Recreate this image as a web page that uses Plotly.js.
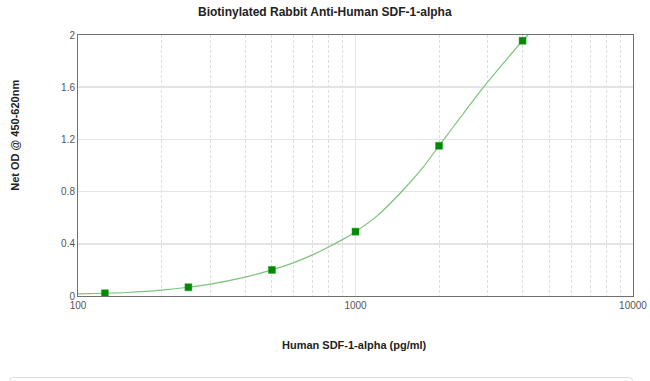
<!DOCTYPE html>
<html>
<head>
<meta charset="utf-8">
<script src="https://cdn.plot.ly/plotly-3.0.1.min.js"></script>
<style>
  html, body { margin: 0; padding: 0; background: #fff; }
  #wrap { position: relative; width: 650px; height: 381px; overflow: hidden; }
  #chart { position: absolute; left: 0; top: 0; width: 650px; height: 381px; }
  #box { position: absolute; left: 9px; top: 377px; width: 622px; height: 30px;
         border: 1px solid #dedede; border-radius: 4px; }
</style>
</head>
<body>
<div id="wrap">
  <div id="chart"></div>
  <div id="box"></div>
</div>
<script>
// Measured standards
const concentration = [125, 250, 500, 1000, 2000, 4000];
const netOD = [0.021, 0.067, 0.200, 0.493, 1.151, 1.956];

// Fitted curve
const curveX = [100, 125, 150, 200, 250, 300, 400, 500, 600, 700, 800, 900, 1000, 1200, 1500, 1750, 2000, 2500, 3000, 3500, 4000, 4200];
const curveY = [0.017, 0.021, 0.027, 0.045, 0.067, 0.091, 0.145, 0.200, 0.256, 0.315, 0.375, 0.434, 0.493, 0.616, 0.822, 0.985, 1.151, 1.425, 1.642, 1.812, 1.956, 2.004];

const titleText = 'Biotinylated Rabbit Anti-Human SDF-1-alpha';
const xTitle = 'Human SDF-1-alpha (pg/ml)';
const yTitle = 'Net OD @ 450-620nm';
const yTicks = [0, 0.4, 0.8, 1.2, 1.6, 2];
const xTicks = [100, 1000, 10000];

const traces = [
  {
    x: curveX, y: curveY, type: 'scatter', mode: 'lines',
    line: { color: '#7cc47c', width: 1.2, shape: 'spline', smoothing: 0.6 },
    hoverinfo: 'skip', showlegend: false
  },
  {
    x: concentration, y: netOD, type: 'scatter', mode: 'markers',
    marker: { symbol: 'square', size: 7, color: '#008a00', line: { color: '#2a9a2a', width: 0.5 } },
    showlegend: false
  }
];

const layout = {
  width: 650, height: 381,
  margin: { l: 78, r: 17, t: 35, b: 84.5 },
  paper_bgcolor: '#ffffff', plot_bgcolor: '#ffffff',
  font: { family: 'Liberation Sans, Arial, sans-serif', color: '#555' },
  showlegend: false,
  xaxis: {
    type: 'log', range: [2, 4],
    tickvals: xTicks, ticktext: xTicks.map(String),
    tickfont: { size: 10, color: '#555' },
    ticks: '', showline: true, linecolor: '#707070', linewidth: 1, mirror: true,
    showgrid: true, gridcolor: '#e4e4e4', gridwidth: 1,
    zeroline: false,
    minor: { dtick: 'D1', showgrid: true, gridcolor: '#dedede', griddash: '3px,2px', gridwidth: 1, ticks: '' },
    fixedrange: true
  },
  yaxis: {
    range: [0, 2], tickvals: yTicks, ticktext: yTicks.map(String),
    tickfont: { size: 10, color: '#555' },
    ticks: '', ticklen: 0, showline: true, linecolor: '#707070', linewidth: 1, mirror: true,
    showgrid: true, gridcolor: '#e4e4e4', gridwidth: 1.5,
    zeroline: false, fixedrange: true
  },
  annotations: [
    { text: '<b>' + titleText + '</b>', xref: 'paper', yref: 'paper', x: 0.5, y: 0,
      xanchor: 'center', yanchor: 'middle', showarrow: false,
      font: { size: 12, color: '#222', family: 'Liberation Sans, Arial, sans-serif' } },
    { text: '<b>' + xTitle + '</b>', xref: 'paper', yref: 'paper', x: 0.5, y: 0,
      xanchor: 'center', yanchor: 'middle', showarrow: false,
      font: { size: 11, color: '#222', family: 'Liberation Sans, Arial, sans-serif' } },
    { text: '<b>' + yTitle + '</b>', xref: 'paper', yref: 'paper', x: 0, y: 0,
      xanchor: 'center', yanchor: 'middle', textangle: -90, showarrow: false,
      font: { size: 11, color: '#222', family: 'Liberation Sans, Arial, sans-serif' } }
  ]
};

// Position annotations in pixel terms relative to plot area
const plotW = 650 - 78 - 17, plotH = 381 - 35 - 84.5;
function px2paperX(px) { return (px - 78) / plotW; }
function px2paperY(py) { return (381 - 84.5 - py) / plotH; }
layout.annotations[0].x = px2paperX(325); layout.annotations[0].y = px2paperY(12);
layout.annotations[1].x = px2paperX(354); layout.annotations[1].y = px2paperY(346);
layout.annotations[2].x = px2paperX(15);  layout.annotations[2].y = px2paperY(136);

Plotly.newPlot('chart', traces, layout, { displayModeBar: false, staticPlot: true });
</script>
</body>
</html>
